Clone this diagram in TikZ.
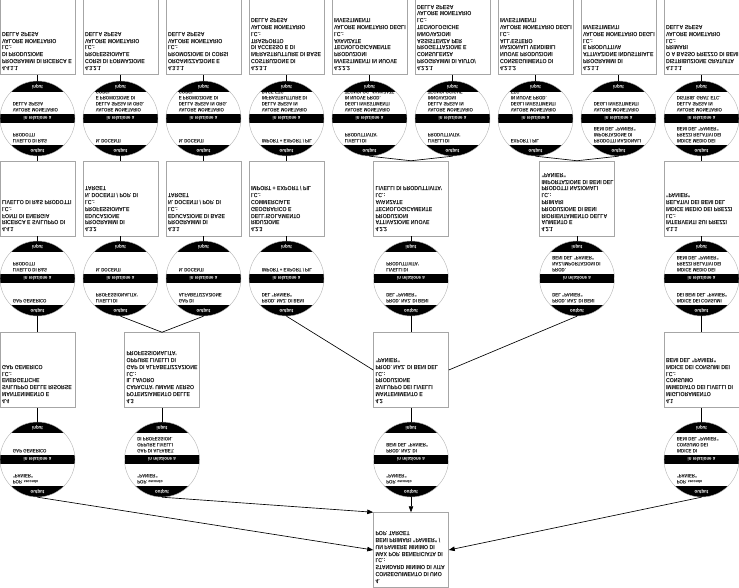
\documentclass[tikz,border=0pt]{standalone}
\usepackage{fontspec}
\setmainfont{Liberation Sans}[FakeStretch=0.87]
\usepackage{graphicx}
\usetikzlibrary{arrows.meta,calc,backgrounds}
\newcommand\fl[1]{\scalebox{1}[-1]{#1}}
\newcommand\bxt[1]{\fl{\parbox[c][71pt][t]{71pt}{\vspace*{1.5pt}\begin{tabular}[t]{@{}l@{}}#1\end{tabular}}}}
\newcommand\ctx[1]{\fl{\begin{tabular}{@{}l@{}}#1\end{tabular}}}
\newcommand\mysecondo{{\fontsize{4}{5}\selectfont secondo}}
\tikzset{
  box/.style={draw=gray!70, line width=0.5pt, inner sep=2pt, font=\bfseries\fontsize{6}{6.8}\selectfont},
  circ/.style={circle, draw=gray!60, fill=white, line width=0.4pt, minimum size=75pt, inner sep=0pt,
    path picture={
      \fill[black] (path picture bounding box.north west) rectangle ([yshift=-11pt]path picture bounding box.north east);
      \fill[black] (path picture bounding box.south west) rectangle ([yshift=11pt]path picture bounding box.south east);
      \fill[black] ([yshift=4.5pt]path picture bounding box.west) rectangle ([yshift=-4.5pt]path picture bounding box.east);
    }},
  ctxt/.style={inner sep=0.3pt, anchor=south west, font=\bfseries\fontsize{5}{6}\selectfont},
  capt/.style={inner sep=0pt, text=white, font=\bfseries\fontsize{5}{5}\selectfont},
  conn/.style={draw=black, line width=0.65pt},
  arr/.style={conn, -{Triangle[length=6pt,width=4.5pt]}},
  frame/.style={draw=gray!60, line width=0.4pt}
}
\newcommand\bb[4]{\node[box] (#1) at (#2,#3) {\bxt{#4}};}
\newcommand\rc[5]{%
  \node[circ] (#1) at (#2,#3) {};
  \node[capt] (#1i) at ([yshift=-5.8pt]#1.north) {\fl{input}};
  \node[capt] (#1o) at ([yshift=5.8pt]#1.south) {\fl{output}};
  \node[capt] (#1r) at (#1.center) {\fl{in relazione a}};
  \node[ctxt] (#1u) at ([xshift=12.5pt,yshift=5pt]#1.west) {\ctx{#4}};
  \node[ctxt] (#1l) at ([xshift=12.5pt,yshift=-26pt]#1.west) {\ctx{#5}};
}
\begin{document}
\begin{tikzpicture}[x=1pt,y=-1pt]
\useasboundingbox[fill=white] (0,0) rectangle (739,588);
% level 4 boxes
\bb{b1}{37.5}{37}{4.4.1.1\\PROGRAMMI DI RICERCA E\\DI PRODUZIONE\\I.C.:\\VALORE MONETARIO\\DELLA SPESA}
\bb{b2}{120.5}{37}{4.3.2.1\\CORSI DI FORMAZIONE\\PROFESSIONALE\\I.C.:\\VALORE MONETARIO\\DELLA SPESA}
\bb{b3}{203.5}{37}{4.3.1.1\\ORGANIZZAZIONE E\\PROMOZIONE DI CORSI\\I.C.:\\VALORE MONETARIO\\DELLA SPESA}
\bb{b4}{286.5}{37}{4.2.3.1\\COSTRUZIONE DI\\INFRASTRUTTURE DI BASE\\DI ACCESSO E DI\\TRASPORTO\\I.C.:\\VALORE MONETARIO\\DELLA SPESA}
\bb{b5}{369.5}{37}{4.2.2.2\\INVESTIMENTI IN NUOVE\\PRODUZIONI\\TECNOLOGICAMENTE\\AVANZATE\\I.C.:\\VALORE MONETARIO DEGLI\\INVESTIMENTI}
\bb{b6}{452.5}{37}{4.2.2.1\\PROGRAMMI DI AIUTO/\\CONSULENZA\\PROGETTAZIONE E\\ASSISTENZA PER\\INNOVAZIONI\\TECNOLOGICHE\\I.C.:\\VALORE MONETARIO\\DELLA SPESA}
\bb{b7}{535.5}{37}{4.2.1.2\\CONSEGUIMENTO DI\\NUOVE PRODUZIONI\\NAZIONALI VENDIBILI\\ALL'ESTERO\\I.C.:\\VALORE MONETARIO DEGLI\\INVESTIMENTI}
\bb{b8}{618.5}{37}{4.2.1.1\\PROGRAMMI DI\\ATTIVAZIONE INDUSTRIALE\\E PRODUTTIVA\\I.C.:\\VALORE MONETARIO DEGLI\\INVESTIMENTI}
\bb{b9}{701.5}{37}{4.1.1.1\\DISTRIBUZIONE GRATUITA\\O A BASSO PREZZO DI BENI\\PRIMARI\\I.C.:\\VALORE MONETARIO\\DELLA SPESA}
% row 1 circles
\rc{c1}{37.5}{118.5}{VALORE MONETARIO\\DELLA SPESA}{LIVELLO DI R\&S\\PRODOTTI}
\rc{c2}{120.5}{118.5}{VALORE MONETARIO\\DELLA SPESA IN ORG.\\E PROMOZIONE DI\\CORSI}{N. DOCENTI}
\rc{c3}{203.5}{118.5}{VALORE MONETARIO\\DELLA SPESA IN ORG.\\E PROMOZIONE DI\\CORSI}{N. DOCENTI}
\rc{c4}{286.5}{118.5}{VALORE MONETARIO\\DELLA SPESA IN\\INFRASTRUTTURE DI\\BASE ETC.}{IMPORT + EXPORT / PIL}
\rc{c5}{369.5}{118.5}{VALORE MONETARIO\\DEGLI INVESTIMENTI\\IN NUOVE PROD.\\TECNOLOG. AVANZATE}{LIVELLI DI\\PRODUTTIVITA'}
\rc{c6}{452.5}{118.5}{VALORE MONETARIO\\DELLA SPESA IN\\INNOVAZIONI\\TECNOLOGICHE}{LIVELLI DI\\PRODUTTIVITA'}
\rc{c7}{535.5}{118.5}{VALORE MONETARIO\\DEGLI INVESTIMENTI\\IN NUOVE PROD.\\ETC.}{EXPORT / PIL}
\rc{c8}{618.5}{118.5}{VALORE MONETARIO\\DEGLI INVESTIMENTI}{PRODOTTI NAZIONALI\\IMPORTAZIONE DI\\BENI DEL "PANIER"}
\rc{c9}{701.5}{118.5}{VALORE MONETARIO\\DELLA SPESA IN\\DISTRIB. GRAT. ETC.}{INDICE MEDIO DEI\\PREZZI RELATIVI DEI\\BENI DEL "PANIER"}
% level 3 boxes
\bb{l1}{37.5}{198.5}{4.4.1\\RICERCA E SVILUPPO DI\\FONTI DI ENERGIA\\I.C.:\\LIVELLO DI R\&S PRODOTTI}
\bb{l2}{120.5}{198.5}{4.3.2\\PROGRAMMI DI\\EDUCAZIONE\\PROFESSIONALE\\I.C.:\\N. DOCENTI / POP. DI\\TARGET}
\bb{l3}{203.5}{198.5}{4.3.1\\PROGRAMMI DI\\EDUCAZIONE DI BASE\\I.C.:\\N. DOCENTI / POP. DI\\TARGET}
\bb{l4}{286.5}{198.5}{4.2.3\\RIDUZIONE\\DELL'ISOLAMENTO\\GEOGRAFICO E\\COMMERCIALE\\I.C.:\\IMPORT + EXPORT / PIL}
\bb{l5}{411}{198.5}{4.2.2\\ATTIVAZIONE NUOVE\\PRODUZIONI\\TECNOLOGICAMENTE\\AVANZATE\\I.C.:\\LIVELLI DI PRODUTTIVITA'}
\bb{l6}{577}{198.5}{4.2.1\\AUMENTO E\\RIORIENTAMENTO DELLA\\PRODUZIONE DI BENI\\PRIMARI\\I.C.:\\PRODOTTI NAZIONALI\\IMPORTAZIONE DI BENI DEL\\"PANIER"}
\bb{l7}{701.5}{198.5}{4.1.1\\INTERVENTI SUI PREZZI\\I.C.:\\INDICE MEDIO DEI PREZZI\\RELATIVI DEI BENI DEL\\"PANIER"}
% row 2 circles
\rc{d1}{37.5}{278.5}{LIVELLO DI R\&S\\PRODOTTI}{GAP GENERICO}
\rc{d2}{120.5}{278.5}{N. DOCENTI}{LIVELLI DI\\PROFESSIONALITA'}
\rc{d3}{203.5}{278.5}{N. DOCENTI}{GAP DI\\ALFABETIZZAZIONE}
\rc{d4}{286.5}{278.5}{IMPORT + EXPORT / PIL}{PROD. NAZ. DI BENI\\DEL "PANIER"}
\rc{d5}{411}{278.5}{LIVELLI DI\\PRODUTTIVITA'}{PROD. NAZ. DI BENI\\DEL "PANIER"}
\rc{d6}{577}{278.5}{PROD.\\NAZ./IMPORTAZIONI DI\\BENI DEL "PANIER"}{PROD. NAZ. DI BENI\\DEL "PANIER"}
\rc{d7}{701.5}{278.5}{INDICE MEDIO DEI\\PREZZI RELATIVI DEI\\BENI DEL "PANIER"}{INDICE DEI CONSUMI\\DEI BENI DEL "PANIER"}
% level 2 boxes
\bb{m1}{37.5}{370}{4.4\\MANTENIMENTO E\\SVILUPPO DELLE RISORSE\\ENERGETICHE\\I.C.:\\GAP GENERICO}
\bb{m2}{162}{370}{4.3\\POTENZIAMENTO DELLE\\CAPACITA' UMANE VERSO\\IL LAVORO\\I.C.:\\GAP DI ALFABETIZZAZIONE\\OPPURE LIVELLI DI\\PROFESSIONALITA'}
\bb{m3}{411}{370}{4.2\\MANTENIMENTO E\\SVILUPPO DEI LIVELLI\\PRODUZIONE\\I.C.:\\PROD. NAZ. DI BENI DEL\\"PANIER"}
\bb{m4}{701.5}{370}{4.1\\MIGLIORAMENTO\\IMMEDIATO DEI LIVELLI DI\\CONSUMO\\I.C.:\\INDICE DEI CONSUMI DEI\\BENI DEL "PANIER"}
% row 3 circles
\rc{e1}{37.5}{459.5}{GAP GENERICO}{POP. \mysecondo\\"PANIER"}
\rc{e2}{162}{459.5}{GAP DI ALFABET.\\OPPURE LIVELLI\\DI PROFESSION.}{POP. \mysecondo\\"PANIER"}
\rc{e3}{411}{459.5}{PROD. NAZ. DI\\BENI DEL "PANIER"}{POP. \mysecondo\\"PANIER"}
\rc{e4}{701.5}{459.5}{INDICE DI\\CONSUMO DEI\\BENI DEL "PANIER"}{POP. \mysecondo\\"PANIER"}
% root
\bb{root}{411}{550}{4.\\CONSEGUIMENTO DI UNO\\STANDARD MINIMO DI VITA\\I.C.:\\MAX POP. BENEFICIATA DI\\UN PANIERE MINIMO DI\\BENI PRIMARI "PANIER" /\\POP. TARGET}
% frame behind circles 5 and 6
\begin{scope}[on background layer]
\draw[frame] (b5.south west) -- (b5.south west |- c5.center) -- (b6.south east |- c6.center) -- (b6.south east);
\draw[frame] ($(b5.south east)!.5!(b6.south west)$) -- ($(c5.east)!.5!(c6.west)$);
\end{scope}
% connectors
\foreach \i in {1,...,9} {\draw[conn] (b\i.south) -- (c\i.north);}
\draw[conn] (c1.south) -- (l1.north);
\draw[conn] (c2.south) -- (l2.north);
\draw[conn] (c3.south) -- (l3.north);
\draw[conn] (c4.south) -- (l4.north);
\draw[conn] (c5.south) -- (l5.north);
\draw[conn] (c6.south) -- (l5.north);
\draw[conn] (c7.south) -- (l6.north);
\draw[conn] (c8.south) -- (l6.north);
\draw[conn] (c9.south) -- (l7.north);
\foreach \i in {1,...,7} {\draw[conn] (l\i.south) -- (d\i.north);}
\draw[conn] (d1.south) -- (m1.north);
\draw[conn] (d2.south) -- (m2.north);
\draw[conn] (d3.south) -- (m2.north);
\draw[conn] (d4.south) -- (m3.west);
\draw[conn] (d5.south) -- (m3.north);
\draw[conn] (d6.south) -- (m3.east);
\draw[conn] (d7.south) -- (m4.north);
\draw[conn] (m1.south) -- (e1.north);
\draw[conn] (m2.south) -- (e2.north);
\draw[conn] (m3.south) -- (e3.north);
\draw[conn] (m4.south) -- (e4.north);
\draw[arr] (e1.south) -- (root.west);
\draw[arr] (e2.south) -- (root.north west);
\draw[arr] (e3.south) -- (root.north);
\draw[arr] (e4.south) -- (root.east);
\end{tikzpicture}
\end{document}
